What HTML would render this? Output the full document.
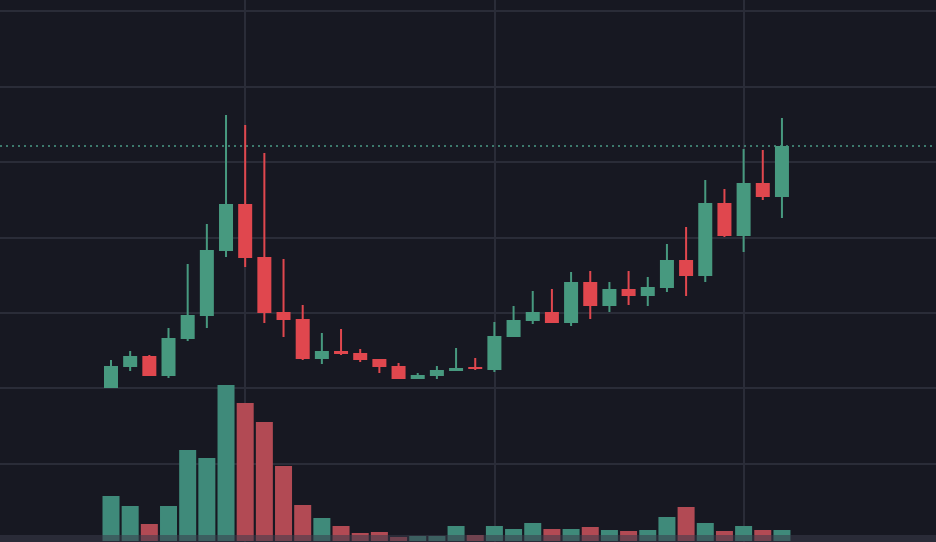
<!DOCTYPE html>
<html><head><meta charset="utf-8"><style>
html,body{margin:0;padding:0;background:#171822;}
svg{display:block;}
</style></head><body>
<svg id="chart" width="936" height="542" viewBox="0 0 936 542" xmlns="http://www.w3.org/2000/svg">
<rect x="0" y="0" width="936" height="542" fill="#171822"/>
<g id="grid"></g>
<g id="vol"></g>
<rect x="0" y="535" width="936" height="7" fill="#3a3c4a" opacity="0.55"/>
<line x1="0" x2="936" y1="146" y2="146" stroke="#4a9a86" stroke-width="1.5" stroke-dasharray="2,4"/>
<g id="candles"></g>
</svg>
<script>
const opens  = [15.1,17.2,18.3,16.3,20.0,22.3,28.8,33.5,28.2,22.7,22.0,18.0,18.8,18.6,18.0,17.3,16.0,16.3,16.8,17.2,16.9,20.2,21.8,22.7,21.6,25.7,23.3,25.0,24.3,25.1,27.9,26.3,33.6,30.3,35.6,34.2];
const highs  = [17.9,18.8,18.4,21.1,27.5,31.5,42.4,41.4,38.6,28.0,23.4,20.6,21.0,19.0,18.0,17.6,16.6,17.3,19.1,18.1,21.7,23.3,24.8,25.0,26.7,26.8,25.7,26.8,26.2,29.5,31.2,35.9,35.0,39.0,38.9,42.1];
const lows   = [15.1,16.8,16.3,16.1,19.8,21.1,28.2,27.2,21.6,20.2,17.9,17.5,18.4,17.7,16.6,16.0,16.0,16.0,16.8,16.9,16.7,20.2,21.5,21.6,21.3,22.0,22.7,23.4,23.3,24.7,24.3,25.7,30.2,28.7,33.9,32.1];
const closes = [17.3,18.3,16.3,20.1,22.4,28.9,33.5,28.1,22.6,21.9,18.0,18.8,18.5,17.9,17.2,16.0,16.4,16.9,17.1,17.0,20.3,21.9,22.7,21.6,25.7,23.3,25.0,24.3,25.2,27.9,26.3,33.6,30.3,35.6,34.2,39.3];
const volumes = [45,35,17,35,91,83,156,138,119,75,36,23,15,8,9,4,5,5,15,6,15,12,18,12,12,14,11,10,11,24,34,18,10,15,11,11];

const NS="http://www.w3.org/2000/svg";
const xPos = i => 111 + i*19.17;
const yPrice = p => 539 - p*10;
const yVol = v => 541 - v;
const UP="#47997f", DOWN="#e0474e", UPV="#3f8a7a", DOWNV="#b24a54";

const grid=document.getElementById('grid');
[11,87,162,238,313,388,464].forEach(y=>{
  const l=document.createElementNS(NS,'line');
  l.setAttribute('x1',0);l.setAttribute('x2',936);l.setAttribute('y1',y);l.setAttribute('y2',y);
  l.setAttribute('stroke','#2a2c38');l.setAttribute('stroke-width',2);
  
  
  grid.appendChild(l);
});
[245,495,744].forEach(x=>{
  const l=document.createElementNS(NS,'line');
  l.setAttribute('x1',x);l.setAttribute('x2',x);l.setAttribute('y1',0);l.setAttribute('y2',542);
  l.setAttribute('stroke','#2a2c38');l.setAttribute('stroke-width',2);
  
  
  grid.appendChild(l);
});

const vol=document.getElementById('vol');
volumes.forEach((v,i)=>{
  const r=document.createElementNS(NS,'rect');
  r.setAttribute('x',xPos(i)-8.5);r.setAttribute('width',17);
  r.setAttribute('y',yVol(v));r.setAttribute('height',541-yVol(v));
  r.setAttribute('fill',closes[i]>=opens[i]?UPV:DOWNV);
  
  
  vol.appendChild(r);
});

const cg=document.getElementById('candles');
opens.forEach((o,i)=>{
  const c=closes[i], up=c>=o, col=up?UP:DOWN, x=xPos(i);
  const w=document.createElementNS(NS,'line');
  w.setAttribute('x1',x);w.setAttribute('x2',x);
  w.setAttribute('y1',yPrice(highs[i]));w.setAttribute('y2',yPrice(lows[i]));
  w.setAttribute('stroke',col);w.setAttribute('stroke-width',2);
  
  
  cg.appendChild(w);
  const b=document.createElementNS(NS,'rect');
  const top=yPrice(Math.max(o,c)), bot=yPrice(Math.min(o,c));
  b.setAttribute('x',x-7);b.setAttribute('width',14);
  b.setAttribute('y',top);b.setAttribute('height',Math.max(2,bot-top));
  b.setAttribute('fill',col);
  
  
  cg.appendChild(b);
});
</script>
</body></html>
